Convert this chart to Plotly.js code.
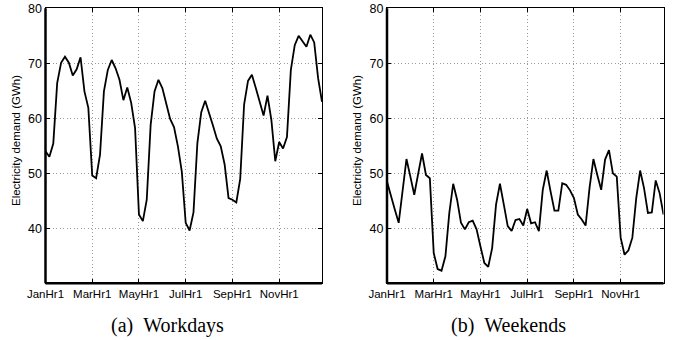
<!DOCTYPE html>
<html>
<head>
<meta charset="utf-8">
<script src="https://cdn.plot.ly/plotly-3.0.1.min.js"></script>
<style>html,body{margin:0;padding:0;background:#fff;}#chart{width:677px;height:340px;}</style>
</head>
<body>
<div id="chart"></div>
<script>
const tickLabels = ["JanHr1", "MarHr1", "MayHr1", "JulHr1", "SepHr1", "NovHr1"];
const tickPositions = [0, 12, 24, 36, 48, 60];

const workdays = [
  54.0, 53.0, 55.4, 66.4, 70.1, 71.2, 70.1, 67.8, 68.9, 71.1, 64.9, 61.9,
  49.6, 49.1, 53.4, 64.9, 68.8, 70.6, 69.1, 67.0, 63.3, 65.6, 62.8, 58.2,
  42.5, 41.3, 45.2, 58.8, 64.9, 67.0, 65.5, 62.8, 59.9, 58.4, 54.9, 50.3,
  41.0, 39.6, 42.9, 55.5, 61.1, 63.2, 61.1, 58.7, 56.3, 54.9, 51.6, 45.5,
  45.2, 44.7, 49.0, 62.5, 66.8, 67.9, 65.5, 63.0, 60.5, 64.1, 59.7, 52.2,
  55.7, 54.5, 56.6, 68.8, 73.3, 75.0, 74.1, 73.0, 75.2, 73.8, 67.3, 63.0
];

const weekends = [
  48.5, 45.8, 43.4, 41.0, 46.8, 52.6, 49.4, 46.1, 49.9, 53.6, 49.7, 49.1,
  35.5, 32.6, 32.3, 34.9, 42.8, 48.1, 45.2, 41.0, 39.8, 41.1, 41.4, 39.8,
  36.7, 33.7, 33.0, 36.4, 44.3, 48.1, 44.3, 40.4, 39.5, 41.5, 41.7, 40.5,
  43.5, 40.9, 41.1, 39.5, 47.0, 50.5, 46.7, 43.2, 43.2, 48.2, 47.9, 46.9,
  45.5, 42.5, 41.6, 40.5, 47.3, 52.6, 49.7, 47.0, 52.5, 54.2, 50.0, 49.4,
  38.3, 35.2, 36.0, 38.3, 45.5, 50.5, 47.3, 42.8, 42.9, 48.7, 46.4, 42.5
];

const yTicks = [40, 50, 60, 70, 80];
const yTitle = "Electricity demand (GWh)";
const captions = ["(a)\u00a0\u00a0Workdays", "(b)\u00a0\u00a0Weekends"];

(function () {
  const xIdx = workdays.map((_, i) => i);

  const lineStyle = {color: "#000", width: 1.8};
  const traces = [
    {x: xIdx, y: workdays, type: "scatter", mode: "lines", line: lineStyle, xaxis: "x", yaxis: "y", hoverinfo: "skip"},
    {x: xIdx, y: weekends, type: "scatter", mode: "lines", line: lineStyle, xaxis: "x2", yaxis: "y2", hoverinfo: "skip"}
  ];

  const W = 677, H = 340;
  const plotTop = 8.3, plotBottom = 283.3;
  const yDom = [1 - plotBottom / H, 1 - plotTop / H];
  const xDom1 = [45.5 / W, 322 / W];
  const xDom2 = [387 / W, 663.5 / W];

  const xTickFont = {family: "Liberation Sans, Arial, sans-serif", size: 11.5, color: "#000"};
  const yTickFont = {family: "Liberation Sans, Arial, sans-serif", size: 12.5, color: "#000"};
  const gridDash = "1px,2.5px";

  function xAxis(dom, anchor) {
    return {
      domain: dom, anchor: anchor, range: [0, 71],
      tickmode: "array", tickvals: tickPositions, ticktext: tickLabels,
      ticks: "inside", ticklen: 4, tickcolor: "#000", tickwidth: 1,
      showline: true, linecolor: "#000", linewidth: 1, mirror: "ticks",
      showgrid: true, gridcolor: "#9a9a9a", gridwidth: 1, griddash: gridDash,
      zeroline: false, tickfont: xTickFont, fixedrange: true
    };
  }
  function yAxis(anchor) {
    return {
      domain: yDom, anchor: anchor, range: [30, 80],
      tickmode: "array", tickvals: yTicks,
      ticks: "inside", ticklen: 4, tickcolor: "#000", tickwidth: 1,
      showline: true, linecolor: "#000", linewidth: 1, mirror: "ticks",
      showgrid: true, gridcolor: "#9a9a9a", gridwidth: 1, griddash: gridDash,
      zeroline: false, tickfont: yTickFont, fixedrange: true
    };
  }

  function frame(xref, yref) {
    return [
      {type: "line", xref: xref + " domain", yref: yref + " domain", x0: 0, x1: 0, y0: 0, y1: 1, line: {color: "#000", width: 2.5}},
      {type: "line", xref: xref + " domain", yref: yref + " domain", x0: 0, x1: 1, y0: 0, y1: 0, line: {color: "#000", width: 2.5}}
    ];
  }

  const titleFont = {family: "Liberation Sans, Arial, sans-serif", size: 11.5, color: "#000"};
  const capFont = {family: "Liberation Serif, Times New Roman, serif", size: 20, color: "#000"};

  const layout = {
    width: W, height: H,
    margin: {l: 0, r: 0, t: 0, b: 0},
    paper_bgcolor: "#fff", plot_bgcolor: "#fff",
    showlegend: false,
    xaxis: xAxis(xDom1, "y"),
    yaxis: yAxis("x"),
    xaxis2: xAxis(xDom2, "y2"),
    yaxis2: yAxis("x2"),
    shapes: frame("x", "y").concat(frame("x2", "y2")),
    annotations: [
      {text: yTitle, xref: "paper", yref: "paper", x: 16 / W, y: 1 - 141 / H, textangle: -90, showarrow: false,
       xanchor: "center", yanchor: "middle", font: titleFont},
      {text: yTitle, xref: "paper", yref: "paper", x: 357 / W, y: 1 - 141 / H, textangle: -90, showarrow: false,
       xanchor: "center", yanchor: "middle", font: titleFont},
      {text: captions[0], xref: "paper", yref: "paper", x: 167 / W, y: 1 - 325 / H, showarrow: false,
       xanchor: "center", yanchor: "middle", font: capFont},
      {text: captions[1], xref: "paper", yref: "paper", x: 508.5 / W, y: 1 - 325 / H, showarrow: false,
       xanchor: "center", yanchor: "middle", font: capFont}
    ]
  };

  Plotly.newPlot("chart", traces, layout, {staticPlot: true, displayModeBar: false});
})();
</script>
</body>
</html>
